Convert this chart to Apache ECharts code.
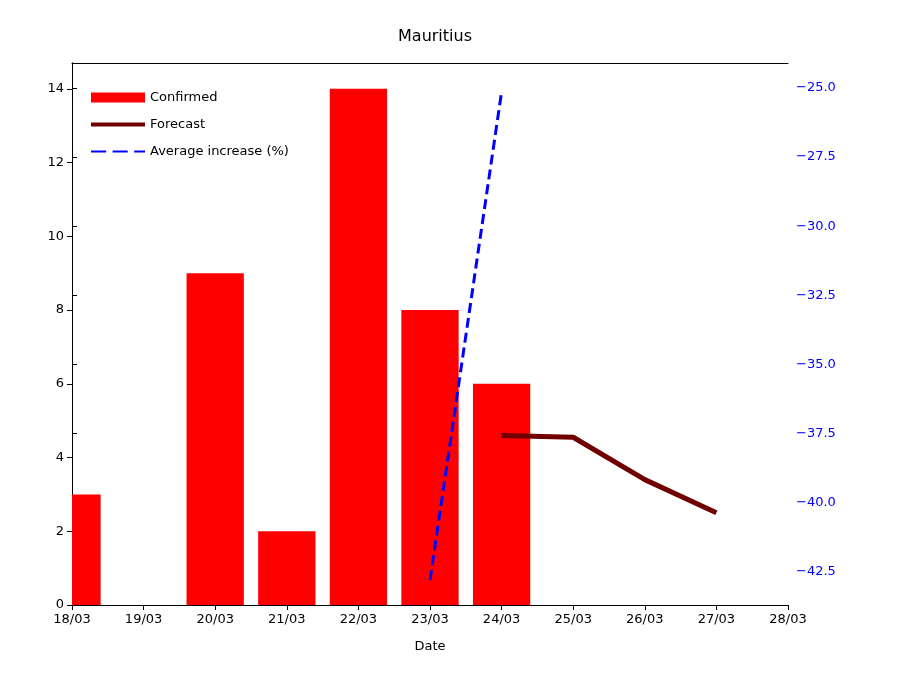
<!DOCTYPE html>
<html><head><meta charset="utf-8">
<script src="https://cdn.jsdelivr.net/npm/echarts@6/dist/echarts.min.js"></script>
<style>html,body{margin:0;padding:0;background:#fff}#c{width:900px;height:700px}</style>
</head><body><div id="c"></div>
<script>
const tickLabels = ['18/03','19/03','20/03','21/03','22/03','23/03','24/03','25/03','26/03','27/03','28/03'];
const confirmedDays = [0,1,2,3,4,5,6];
const confirmed = [3,0,9,2,14,8,6];
const forecastDays = [6,7,8,9];
const forecast = [4.6,4.55,3.4,2.5];
const avgDays = [5,6];
const avgIncrease = [-42.79,-25.14];
const rightTicks = [-42.5,-40,-37.5,-35,-32.5,-30,-27.5,-25];

const chart = echarts.init(document.getElementById('c'));
const font = 'DejaVu Sans';
chart.setOption({
  animation:false,
  textStyle:{fontFamily:font},
  title:{text:'Mauritius',left:430,top:24,textAlign:'center',textStyle:{fontFamily:font,fontSize:16,fontWeight:'normal',color:'#000'}},
  legend:{left:86,top:86,orient:'vertical',itemGap:14,itemWidth:54,itemHeight:10,
    textStyle:{fontFamily:font,fontSize:13,color:'#000'},
    data:[{name:'Confirmed',icon:'rect'},
          {name:'Forecast',icon:'path://M0,3H54V7H0Z'},
          {name:'Average increase (%)',icon:'path://M4,4H18V6H4ZM24,4H38V6H24ZM44,4H54V6H44Z'}]},
  grid:{left:72,right:112,top:63,bottom:95},
  xAxis:[{type:'value',min:0,max:10,interval:1,name:'Date',nameLocation:'middle',nameGap:35,
    nameTextStyle:{fontSize:13,color:'#000'},
    axisLine:{lineStyle:{color:'#000'}},axisTick:{lineStyle:{color:'#000'}},splitLine:{show:false},
    axisLabel:{color:'#000',fontSize:13,formatter:v=>tickLabels[v]}},
    {type:'value',min:0,max:10,position:'top',axisLine:{show:true,lineStyle:{color:'#000'}},
     axisTick:{show:false},axisLabel:{show:false},splitLine:{show:false}}],
  yAxis:[
    {type:'value',min:0,max:14.7,interval:2,axisLine:{show:true,lineStyle:{color:'#000'}},axisTick:{show:true},
      splitLine:{show:false},axisLabel:{color:'#000',fontSize:13,showMaxLabel:false}},
    {type:'value',min:-43.69,max:-24.1,position:'right',
      axisLine:{show:true,lineStyle:{color:'#000'}},splitLine:{show:false},
      axisLabel:{color:'#00f',fontSize:13,customValues:rightTicks,
        formatter:v=>(v<0?'\u2212':'')+Math.abs(v).toFixed(1)},
      axisTick:{show:true,customValues:rightTicks,lineStyle:{color:'#000'}}}
  ],
  series:[
    {name:'Confirmed',type:'custom',itemStyle:{color:'#ff0000'},
      renderItem:(params,api)=>{
        const x=api.value(0), y=api.value(1);
        const p0=api.coord([x-0.4,0]), p1=api.coord([x+0.4,y]);
        const shape=echarts.graphic.clipRectByRect(
          {x:p0[0],y:p1[1],width:p1[0]-p0[0],height:p0[1]-p1[1]},
          {x:params.coordSys.x,y:params.coordSys.y,width:params.coordSys.width,height:params.coordSys.height});
        return shape&&{type:'rect',shape,style:{fill:'#ff0000'}};
      },
      encode:{x:0,y:1},
      data:confirmedDays.map((d,i)=>[d,confirmed[i]])},
    {name:'Forecast',type:'line',symbol:'none',lineStyle:{color:'#700000',width:5},itemStyle:{color:'#700000'},
      data:forecastDays.map((d,i)=>[d,forecast[i]])},
    {name:'Average increase (%)',type:'line',yAxisIndex:1,symbol:'none',
      lineStyle:{color:'#0000ff',width:3,type:[10,5]},itemStyle:{color:'#0000ff'},
      data:avgDays.map((d,i)=>[d,avgIncrease[i]])}
  ]
});
</script></body></html>
